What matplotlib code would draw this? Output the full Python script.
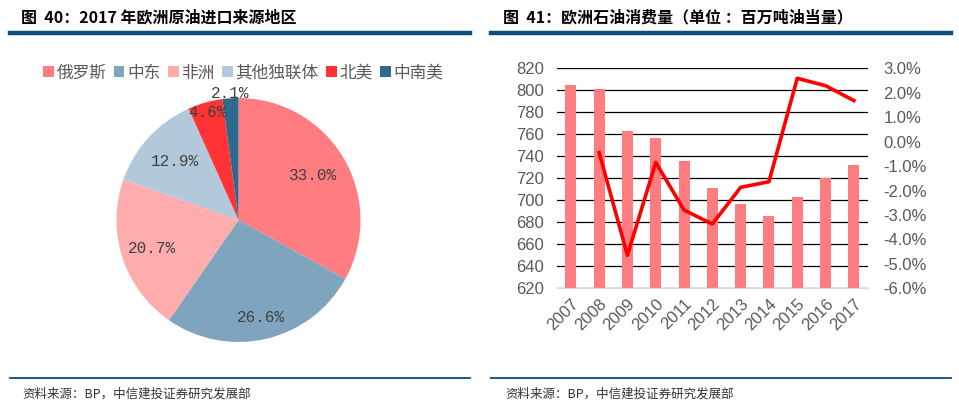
import matplotlib
matplotlib.use("Agg")
import matplotlib.pyplot as plt
import numpy as np

plt.rcParams['font.family'] = ['Noto Sans CJK SC', 'DejaVu Sans']
plt.rcParams['axes.unicode_minus'] = False

# pie data
regions = ["俄罗斯", "中东", "非洲", "其他独联体", "北美", "中南美"]
shares = [33.0, 26.6, 20.7, 12.9, 4.6, 2.1]
pie_colors = ["#FF7C80", "#7FA5BE", "#FFACAC", "#B3C8DA", "#FF3333", "#2E6A8E"]
label_dist = [0.71, 0.82, 0.75, 0.71, 0.92, 1.04]

# bar / line data
years = ["2007", "2008", "2009", "2010", "2011", "2012", "2013", "2014", "2015", "2016", "2017"]
consumption = [805, 801, 763, 757, 736, 711, 697, 686, 703, 720, 732]
growth = [None, -0.45, -4.65, -0.85, -2.8, -3.37, -1.87, -1.64, 2.59, 2.29, 1.68]

W, H = 959, 412
fig = plt.figure(figsize=(W / 100, H / 100), dpi=100)

def fx(x):
    return x / W

def fy(y):
    return 1 - y / H

navy = "#0F4C7B"

# titles and rules
fig.text(fx(21), fy(17), "图  40：2017 年欧洲原油进口来源地区", fontsize=11.5,
         fontweight='bold', va='center', ha='left', color='black')
fig.text(fx(503), fy(17), "图  41：欧洲石油消费量（单位 ：百万吨油当量）", fontsize=11.5,
         fontweight='bold', va='center', ha='left', color='black')
for x0, x1 in [(10, 470), (491, 951)]:
    fig.add_artist(plt.Line2D([fx(x0), fx(x1)], [fy(33), fy(33)], color=navy, lw=3.2))
    fig.add_artist(plt.Line2D([fx(x0), fx(x1)], [fy(378), fy(378)], color=navy, lw=1.3))
fig.text(fx(22), fy(394), "资料来源：BP，中信建投证券研究发展部", fontsize=9,
         va='center', ha='left', color='#333333')
fig.text(fx(505), fy(394), "资料来源：BP，中信建投证券研究发展部", fontsize=9,
         va='center', ha='left', color='#333333')

# pie
R = 122
cx, cy = 238.5, 220
ax1 = fig.add_axes([fx(cx - R), fy(cy + R), 2 * R / W, 2 * R / H])
wedges, _ = ax1.pie(shares, colors=pie_colors, startangle=90, counterclock=False,
                    wedgeprops=dict(linewidth=0))
ax1.set_xlim(-1, 1)
ax1.set_ylim(-1, 1)
ax1.set_aspect('auto')
for w, v, d in zip(wedges, shares, label_dist):
    ang = np.deg2rad((w.theta1 + w.theta2) / 2)
    ax1.text(d * np.cos(ang), d * np.sin(ang), f"{v:.1f}%", ha='center', va='center',
             fontsize=11.5, family='Liberation Mono', color='#404040', clip_on=False)

fig.legend(wedges, regions, loc='center', bbox_to_anchor=(fx(243), fy(73)), ncol=6,
           frameon=False, fontsize=12, handlelength=0.65, handleheight=0.65,
           handletextpad=0.15, columnspacing=0.45, labelcolor='#595959')

# bar + line
ax2 = fig.add_axes([fx(556.7), fy(288.3), (868 - 556.7) / W, 220 / H])
x = np.arange(len(years))
ax2.bar(x, consumption, width=0.39, color="#FF7C80", zorder=2)
ax2.set_ylim(620, 820)
ax2.set_yticks(np.arange(620, 821, 20))
ax2.set_xlim(-0.5, len(years) - 0.5)
ax2.set_xticks(x)
ax2.set_xticklabels(years, rotation=45, ha='right', rotation_mode='anchor')
ax2.grid(axis='y', color='black', lw=0.9, zorder=1)
ax2.set_axisbelow(True)
for s in ['top', 'left', 'right']:
    ax2.spines[s].set_visible(False)
ax2.spines['bottom'].set_color('#D9D9D9')
ax2.tick_params(axis='both', length=0, labelsize=12, labelcolor='#595959')
ax2.tick_params(axis='y', pad=9)
ax2.tick_params(axis='x', pad=6)
for lab in ax2.get_xticklabels() + ax2.get_yticklabels():
    lab.set_family('Liberation Sans')

ax3 = ax2.twinx()
gx = [i for i, g in enumerate(growth) if g is not None]
gy = [g for g in growth if g is not None]
ax3.plot(gx, gy, color='#FF0000', lw=2.6, zorder=3)
ax3.set_ylim(-6, 3)
ax3.set_yticks(np.arange(-6, 3.1, 1))
ax3.set_yticklabels([f"{v:.1f}%" for v in np.arange(-6, 3.1, 1)])
for s in ['top', 'left', 'right', 'bottom']:
    ax3.spines[s].set_visible(False)
ax3.tick_params(axis='y', length=0, labelsize=12, labelcolor='#595959', pad=11)
for lab in ax3.get_yticklabels():
    lab.set_family('Liberation Sans')

fig.savefig("out.png", dpi=100)
